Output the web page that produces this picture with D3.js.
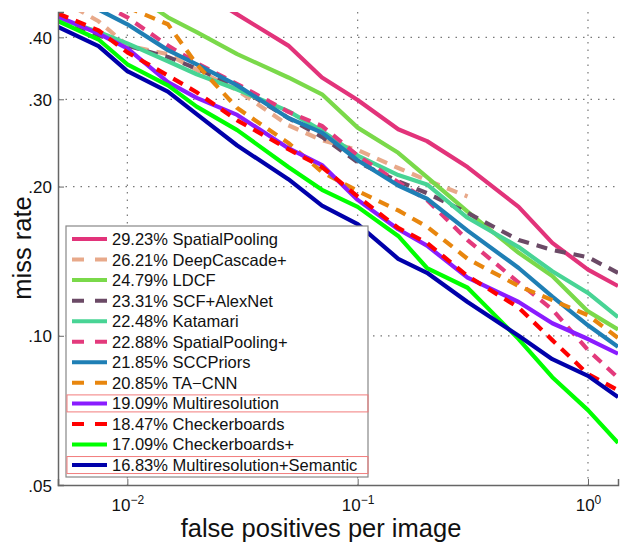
<!DOCTYPE html>
<html>
<head>
<meta charset="utf-8">
<script src="https://cdn.jsdelivr.net/npm/d3@7"></script>
<style>
body { margin: 0; background: #fff; }
text { font-family: "Liberation Sans", Arial, sans-serif; fill: #111; }
</style>
</head>
<body>
<svg id="chart" width="622" height="542"></svg>
<script>
// false positives per image where the curves are sampled
const fppi = [0.005, 0.0075, 0.01, 0.015, 0.02, 0.03, 0.05, 0.07, 0.1, 0.15, 0.2, 0.3, 0.5, 0.7, 1.0, 1.35]

const methods = ['SpatialPooling', 'DeepCascade+', 'LDCF', 'SCF+AlexNet', 'Katamari', 'SpatialPooling+',
	'SCCPriors', 'TA\u2212CNN', 'Multiresolution', 'Checkerboards', 'Checkerboards+', 'Multiresolution+Semantic']
const logAvgMiss = ['29.23', '26.21', '24.79', '23.31', '22.48', '22.88', '21.85', '20.85', '19.09', '18.47', '17.09', '16.83']

// miss rate of each method at the fppi values above (null = no curve there)
const spatialPooling = [null, null, null, null, 0.50, 0.445, 0.385, 0.332, 0.299, 0.261, 0.247, 0.219, 0.182, 0.154, 0.136, 0.126]
const deepCascade = [0.48, 0.431, 0.385, 0.370, 0.344, 0.313, 0.266, 0.248, 0.237, 0.218, 0.206, 0.191, null, null, null, null]
const ldcf = [0.60, 0.54, 0.50, 0.439, 0.410, 0.370, 0.332, 0.307, 0.263, 0.234, 0.209, 0.178, 0.147, 0.132, 0.112, 0.103]
const scfAlexNet = [0.437, 0.404, 0.385, 0.365, 0.346, 0.318, 0.275, 0.252, 0.224, 0.205, 0.194, 0.177, 0.156, 0.149, 0.144, 0.134]
const katamari = [0.437, 0.410, 0.389, 0.358, 0.337, 0.314, 0.284, 0.259, 0.231, 0.211, 0.202, 0.173, 0.151, 0.135, 0.122, 0.109]
const spatialPoolingPlus = [0.55, 0.47, 0.439, 0.385, 0.355, 0.322, 0.283, 0.265, 0.231, 0.204, 0.188, 0.156, 0.128, 0.113, 0.0936, 0.0823]
const sccPriors = [0.50, 0.455, 0.425, 0.377, 0.353, 0.320, 0.275, 0.257, 0.226, 0.201, 0.189, 0.163, 0.137, 0.120, 0.105, 0.095]
const taCnn = [null, null, 0.46, 0.425, 0.353, 0.288, 0.245, 0.214, 0.196, 0.179, 0.166, 0.143, 0.126, 0.118, 0.110, 0.099]
const multiresolution = [0.441, 0.407, 0.380, 0.325, 0.302, 0.279, 0.239, 0.221, 0.188, 0.164, 0.152, 0.131, 0.117, 0.106, 0.0985, 0.092]
const checkerboards = [0.447, 0.413, 0.373, 0.335, 0.310, 0.272, 0.238, 0.219, 0.191, 0.165, 0.154, 0.132, 0.114, 0.098, 0.0837, 0.0777]
const checkerboardsPlus = [0.431, 0.396, 0.353, 0.320, 0.290, 0.260, 0.219, 0.197, 0.182, 0.159, 0.137, 0.125, 0.0985, 0.0825, 0.0708, 0.0608]
const multiresSemantic = [0.42, 0.384, 0.342, 0.311, 0.280, 0.242, 0.207, 0.183, 0.168, 0.143, 0.134, 0.117, 0.100, 0.0897, 0.083, 0.0752]

const xTicks = [0.01, 0.1, 1]
const yTicks = [0.05, 0.10, 0.20, 0.30, 0.40]

const series = [spatialPooling, deepCascade, ldcf, scfAlexNet, katamari, spatialPoolingPlus,
	sccPriors, taCnn, multiresolution, checkerboards, checkerboardsPlus, multiresSemantic]
const colors = ['#e2337a', '#e8a98a', '#7ad94a', '#6b4a66', '#48d495', '#e33a7c',
	'#1f7fb5', '#e8860e', '#8a1cff', '#ff0000', '#00ff00', '#0000aa']
const dashed = [false, true, false, true, false, true, false, true, false, true, false, false]
const highlighted = [false, false, false, false, false, false, false, false, true, false, false, true]

const margin = { top: 12, right: 4, bottom: 57, left: 58 }
const W = 622, H = 542
const width = W - margin.left - margin.right,
	height = H - margin.top - margin.bottom

const svg = d3.select('#chart')
const g = svg.append('g').attr('transform', `translate(${margin.left},${margin.top})`)

const x = d3.scaleLog().domain([0.005, 1.35]).range([0, width])
const y = d3.scaleLog().domain([0.05, 0.45]).range([height, 0])

// dotted grid
g.selectAll('.vgrid')
	.data(xTicks)
	.join('line')
	.attr('x1', d => x(d)).attr('x2', d => x(d))
	.attr('y1', 0).attr('y2', height)
	.attr('stroke', '#777').attr('stroke-width', 1.2)
	.attr('stroke-dasharray', '1.5,6')
g.selectAll('.hgrid')
	.data(yTicks.filter(d => d > 0.05))
	.join('line')
	.attr('x1', 0).attr('x2', width)
	.attr('y1', d => y(d)).attr('y2', d => y(d))
	.attr('stroke', '#777').attr('stroke-width', 1.2)
	.attr('stroke-dasharray', '1.5,6')

// curves
svg.append('defs').append('clipPath').attr('id', 'plotclip')
	.append('rect').attr('width', width).attr('height', height)

const line = d3.line()
	.defined(d => d[1] != null)
	.x(d => x(d[0]))
	.y(d => y(d[1]))

const curves = g.append('g').attr('clip-path', 'url(#plotclip)')
series.forEach((s, i) => {
	curves.append('path')
		.datum(fppi.map((f, j) => [f, s[j]]))
		.attr('d', line)
		.attr('fill', 'none')
		.attr('stroke', colors[i])
		.attr('stroke-width', 4.2)
		.attr('stroke-linejoin', 'round')
		.attr('stroke-dasharray', dashed[i] ? '11,8' : null)
})

// axes
const xAxis = g.append('g')
	.attr('transform', `translate(0,${height})`)
	.call(d3.axisBottom(x).tickValues(xTicks).tickSize(-6).tickFormat(''))
const yAxis = g.append('g')
	.call(d3.axisLeft(y).tickValues(yTicks).tickSize(-6).tickFormat(''))
for (const ax of [xAxis, yAxis]) {
	ax.select('.domain').attr('stroke', '#666').attr('stroke-width', 1.5)
	ax.selectAll('.tick line').attr('stroke', '#666')
}

// x tick labels as 10^k
xAxis.selectAll('.tick').append('text')
	.attr('y', 26)
	.attr('text-anchor', 'middle')
	.style('font-size', '17px')
	.attr('fill', '#111')
	.each(function (d) {
		const t = d3.select(this)
		const k = Math.round(Math.log10(d))
		t.append('tspan').text('10')
		t.append('tspan').attr('dy', -7).style('font-size', '12px')
			.text(k < 0 ? '\u2212' + Math.abs(k) : '0')
	})

yAxis.selectAll('.tick').append('text')
	.attr('x', -6)
	.attr('dy', '0.36em')
	.attr('text-anchor', 'end')
	.style('font-size', '17px')
	.attr('fill', '#111')
	.text(d => d3.format('.2f')(d).slice(1))

// axis titles
svg.append('text')
	.attr('x', 321)
	.attr('y', 537)
	.attr('text-anchor', 'middle')
	.style('font-size', '25.5px')
	.text('false positives per image')
svg.append('text')
	.attr('transform', 'translate(31,248) rotate(-90)')
	.attr('text-anchor', 'middle')
	.style('font-size', '25.5px')
	.text('miss rate')

// legend
const lg = { x: 66, y: 226, w: 302, h: 251, row: 20.55, first: 13 }
const legend = svg.append('g').attr('transform', `translate(${lg.x},${lg.y})`)
legend.append('rect')
	.attr('width', lg.w).attr('height', lg.h)
	.attr('fill', '#fff').attr('stroke', '#888').attr('stroke-width', 1.2)

const rows = legend.selectAll('.row')
	.data(methods)
	.join('g')
	.attr('transform', (d, i) => `translate(0,${lg.first + i * lg.row})`)

rows.filter((d, i) => highlighted[i]).append('rect')
	.attr('x', 1).attr('y', -8.5)
	.attr('width', lg.w - 1).attr('height', 17)
	.attr('fill', 'none').attr('stroke', '#f27c7c').attr('stroke-width', 1)

rows.append('line')
	.attr('x1', 6).attr('x2', 41)
	.attr('stroke', (d, i) => colors[i])
	.attr('stroke-width', 4)
	.attr('stroke-dasharray', (d, i) => dashed[i] ? '12,11' : null)

rows.append('text')
	.attr('x', 46)
	.attr('dy', '0.36em')
	.style('font-size', '16.5px')
	.text((d, i) => logAvgMiss[i] + '% ' + d)
</script>
</body>
</html>
